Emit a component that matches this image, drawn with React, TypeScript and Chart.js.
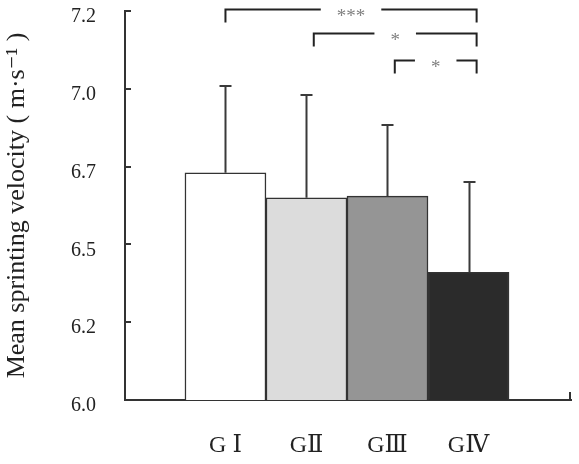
import React, { useEffect, useRef } from "react";
import { Chart, registerables } from "chart.js";

Chart.register(...registerables);

// Groups and their sprint velocity (mean, SD), m/s
const groups = ["G Ⅰ", "GⅡ", "GⅢ", "GⅣ"];
const means = [6.73, 6.65, 6.655, 6.41];
const sds = [0.28, 0.33, 0.23, 0.29];
const barColors = ["#ffffff", "#dcdcdc", "#959595", "#2b2b2b"];

// y axis range and tick step
const yMin = 6.0;
const yMax = 7.25;
const yStep = 0.25;

// significance brackets: start/end along the group axis, height in m/s, label
const bracketStarts = [1, 2.09, 3.09];
const bracketEnds = [4.1, 4.1, 4.1];
const bracketLevels = [7.255, 7.178, 7.093];
const bracketLabels = ["***", "*", "*"];

const yTitle = "Mean sprinting velocity ( m·s⁻¹ )";
const SERIF = "'Liberation Serif', 'DejaVu Serif', serif";

const overlayPlugin = {
  id: "overlay",
  afterDraw(chart: any) {
    const { ctx, chartArea, scales } = chart;
    const x = scales.x;
    const y = scales.y;
    ctx.save();

    // error bars (upper half only)
    ctx.strokeStyle = "#3a3a3a";
    ctx.lineWidth = 2;
    means.forEach((m, i) => {
      const px = Math.round(x.getPixelForValue(i + 1)) + 0.5;
      const base = y.getPixelForValue(m);
      const top = Math.round(y.getPixelForValue(m + sds[i]));
      ctx.beginPath();
      ctx.moveTo(px, base);
      ctx.lineTo(px, top);
      ctx.moveTo(px - 6, top);
      ctx.lineTo(px + 6, top);
      ctx.stroke();
    });

    // inward tick marks on the y axis, end tick on the x axis
    ctx.strokeStyle = "#333";
    ctx.lineWidth = 2;
    y.ticks.forEach((_t: any, i: number) => {
      const py = Math.round(y.getPixelForTick(i));
      ctx.beginPath();
      ctx.moveTo(chartArea.left, py);
      ctx.lineTo(chartArea.left + 6, py);
      ctx.stroke();
    });
    ctx.beginPath();
    ctx.moveTo(chartArea.right - 1, chartArea.bottom);
    ctx.lineTo(chartArea.right - 1, chartArea.bottom - 8);
    ctx.stroke();

    // significance brackets
    ctx.font = `19px ${SERIF}`;
    ctx.textAlign = "center";
    ctx.textBaseline = "alphabetic";
    bracketLabels.forEach((label, i) => {
      const x1 = x.getPixelForValue(bracketStarts[i]);
      const x2 = x.getPixelForValue(bracketEnds[i]);
      const ly = Math.round(y.getPixelForValue(bracketLevels[i])) + 0.5;
      const mid = (x1 + x2) / 2;
      const half = ctx.measureText(label).width / 2 + 16;
      ctx.strokeStyle = "#222";
      ctx.lineWidth = 2;
      ctx.beginPath();
      ctx.moveTo(x1, ly + 13);
      ctx.lineTo(x1, ly);
      ctx.lineTo(mid - half, ly);
      ctx.moveTo(mid + half, ly);
      ctx.lineTo(x2, ly);
      ctx.lineTo(x2, ly + 13);
      ctx.stroke();
      ctx.fillStyle = "#808080";
      ctx.fillText(label, mid, ly + 12);
    });

    ctx.restore();
  },
};

export default function App() {
  const canvasRef = useRef<HTMLCanvasElement | null>(null);

  useEffect(() => {
    if (!canvasRef.current) return;
    const chart = new Chart(canvasRef.current, {
      type: "bar",
      data: {
        datasets: [
          {
            data: means.map((m, i) => ({ x: i + 1, y: m })),
            backgroundColor: barColors,
            borderColor: "#333",
            borderWidth: 1.5,
            barPercentage: 1,
            categoryPercentage: 1,
          },
        ],
      },
      options: {
        animation: false,
        responsive: false,
        devicePixelRatio: 1,
        layout: { padding: { top: 11, right: 8, bottom: 0, left: 0 } },
        plugins: { legend: { display: false }, tooltip: { enabled: false } },
        scales: {
          x: {
            type: "linear",
            offset: false,
            min: -0.24,
            max: 5.265,
            afterBuildTicks: (s: any) => {
              s.ticks = groups.map((_, i) => ({ value: i + 1 }));
            },
            afterFit: (s: any) => {
              s.height = 64;
            },
            ticks: {
              autoSkip: false,
              maxRotation: 0,
              padding: 0,
              color: "#222",
              font: { family: SERIF, size: 24 },
              callback: (v: any) => groups[Number(v) - 1] ?? "",
            },
            grid: {
              display: true,
              drawOnChartArea: false,
              drawTicks: true,
              tickLength: 31,
              tickColor: "rgba(0,0,0,0)",
            },
            border: { display: true, color: "#333", width: 2 },
          },
          y: {
            min: yMin,
            max: yMax,
            afterFit: (s: any) => {
              s.width = 125;
            },
            ticks: {
              stepSize: yStep,
              padding: 0,
              labelOffset: 6,
              color: "#222",
              font: { family: SERIF, size: 20, lineHeight: 1 },
              callback: (v: any) => (Math.floor(Number(v) * 10 + 1e-6) / 10).toFixed(1),
            },
            grid: {
              display: true,
              drawOnChartArea: false,
              drawTicks: true,
              tickLength: 29,
              tickColor: "rgba(0,0,0,0)",
            },
            border: { display: true, color: "#333", width: 2 },
            title: {
              display: true,
              text: yTitle,
              color: "#222",
              font: { family: SERIF, size: 26 },
              padding: { top: 2, bottom: 0 },
            },
          },
        },
      },
      plugins: [overlayPlugin],
    } as any);
    return () => chart.destroy();
  }, []);

  return (
    <div style={{ position: "fixed", left: 0, top: 0, width: 579, height: 464, background: "#fff" }}>
      <canvas ref={canvasRef} width={579} height={464} />
    </div>
  );
}
